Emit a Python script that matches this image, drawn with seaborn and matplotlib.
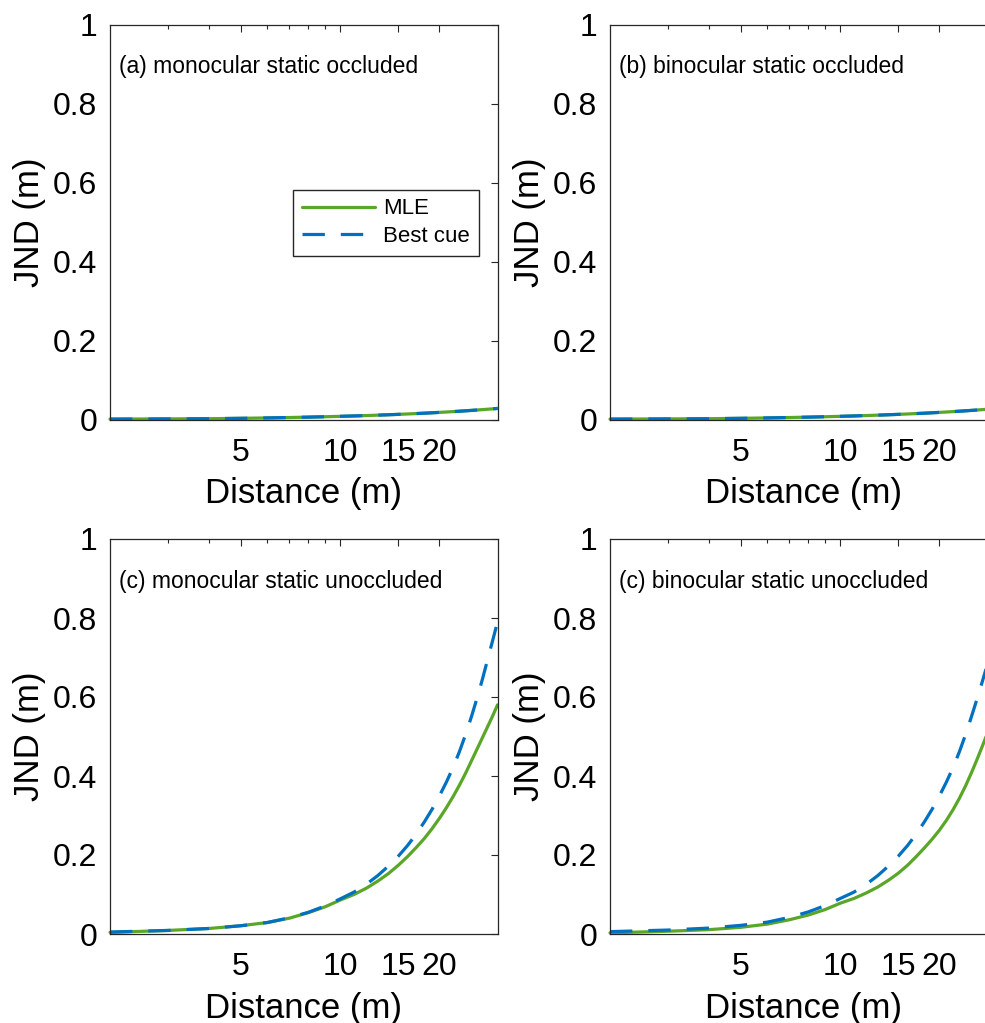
import matplotlib
matplotlib.use("Agg")
import matplotlib.pyplot as plt
from matplotlib.ticker import FixedLocator, NullFormatter
import pandas as pd
import seaborn as sns

distance = [2, 3, 4, 5, 6, 7, 8, 9, 10, 11, 12, 13, 14, 15, 16, 17, 18, 19, 20,
            21, 22, 23, 24, 25, 26, 27, 28, 29, 30]

# (a) monocular static occluded
mle_mono_occ = [0.001, 0.0015, 0.002, 0.003, 0.004, 0.005, 0.006, 0.007, 0.008, 0.009,
                0.010, 0.011, 0.012, 0.013, 0.014, 0.015, 0.016, 0.017, 0.018, 0.019,
                0.020, 0.021, 0.022, 0.023, 0.024, 0.025, 0.026, 0.027, 0.028]
best_mono_occ = [0.001, 0.0015, 0.002, 0.003, 0.004, 0.005, 0.006, 0.007, 0.008, 0.009,
                 0.010, 0.011, 0.012, 0.013, 0.014, 0.015, 0.016, 0.017, 0.018, 0.019,
                 0.020, 0.021, 0.022, 0.023, 0.024, 0.025, 0.026, 0.027, 0.028]

# (b) binocular static occluded
mle_bino_occ = [0.001, 0.0015, 0.002, 0.003, 0.004, 0.005, 0.006, 0.007, 0.008, 0.009,
                0.010, 0.011, 0.012, 0.013, 0.014, 0.015, 0.016, 0.017, 0.018, 0.019,
                0.020, 0.021, 0.022, 0.023, 0.024, 0.025, 0.026, 0.027, 0.028]
best_bino_occ = [0.001, 0.0015, 0.002, 0.003, 0.004, 0.005, 0.006, 0.007, 0.008, 0.009,
                 0.010, 0.011, 0.012, 0.013, 0.014, 0.015, 0.016, 0.017, 0.018, 0.019,
                 0.020, 0.021, 0.022, 0.023, 0.024, 0.025, 0.026, 0.027, 0.028]

# (c) monocular static unoccluded
mle_mono_unocc = [0.004, 0.009, 0.014, 0.021, 0.029, 0.040, 0.054, 0.069, 0.086, 0.100,
                  0.116, 0.134, 0.153, 0.174, 0.196, 0.219, 0.242, 0.267, 0.293, 0.320,
                  0.348, 0.377, 0.407, 0.438, 0.468, 0.497, 0.525, 0.552, 0.580]
best_mono_unocc = [0.005, 0.009, 0.014, 0.021, 0.029, 0.041, 0.055, 0.071, 0.089, 0.106,
                   0.126, 0.148, 0.172, 0.197, 0.224, 0.253, 0.284, 0.316, 0.350, 0.385,
                   0.422, 0.462, 0.505, 0.550, 0.597, 0.645, 0.695, 0.743, 0.790]

# (c) binocular static unoccluded
mle_bino_unocc = [0.003, 0.007, 0.011, 0.017, 0.025, 0.036, 0.048, 0.062, 0.078, 0.090,
                  0.104, 0.119, 0.136, 0.154, 0.174, 0.196, 0.218, 0.240, 0.263, 0.288,
                  0.315, 0.344, 0.375, 0.408, 0.442, 0.476, 0.510, 0.545, 0.580]
best_bino_unocc = [0.006, 0.010, 0.015, 0.022, 0.030, 0.042, 0.056, 0.072, 0.090, 0.106,
                   0.126, 0.148, 0.172, 0.197, 0.224, 0.253, 0.284, 0.316, 0.350, 0.385,
                   0.422, 0.462, 0.505, 0.550, 0.595, 0.640, 0.685, 0.725, 0.765]

panel_titles = ["(a) monocular static occluded", "(b) binocular static occluded",
                "(c) monocular static unoccluded", "(c) binocular static unoccluded"]
series_names = ["MLE", "Best cue"]

x_ticks = [5, 10, 15, 20]
x_minor = [3, 4, 6, 7, 8, 9]
y_ticks = [0, 0.2, 0.4, 0.6, 0.8, 1]
y_tick_labels = ["0", "0.2", "0.4", "0.6", "0.8", "1"]

panels = [
    (mle_mono_occ, best_mono_occ),
    (mle_bino_occ, best_bino_occ),
    (mle_mono_unocc, best_mono_unocc),
    (mle_bino_unocc, best_bino_unocc),
]

sns.set_style("white")
plt.rcParams["font.family"] = ["Liberation Sans", "DejaVu Sans"]
plt.rcParams["text.color"] = "black"
plt.rcParams["axes.labelcolor"] = "black"

GREEN = "#5aa628"
BLUE = "#0070c0"
AXCOL = "#262626"

fig = plt.figure(figsize=(9.85, 10.23), dpi=100)

# axes boxes in pixels; the right column runs past the figure edge as in the original
W, H = 985.0, 1023.0
ax_w, ax_h = 387.5 / W, 395.0 / H
lefts = [110 / W, 610 / W]
bottoms = [(H - 419.5) / H, (H - 934.0) / H]

for i, (mle, best) in enumerate(panels):
    ax = fig.add_axes([lefts[i % 2], bottoms[i // 2], ax_w, ax_h])
    df = pd.DataFrame({
        "distance": distance * 2,
        "jnd": list(mle) + list(best),
        "model": ["MLE"] * len(mle) + ["Best cue"] * len(best),
    })
    sns.lineplot(data=df, x="distance", y="jnd", hue="model", style="model",
                 hue_order=series_names, style_order=series_names,
                 palette={"MLE": GREEN, "Best cue": BLUE},
                 dashes={"MLE": "", "Best cue": (7, 5)},
                 linewidth=2.3, errorbar=None, legend=False, ax=ax, clip_on=False)

    ax.set_xscale("log")
    ax.set_xlim(2, 30)
    ax.set_ylim(0, 1)
    ax.set_xticks(x_ticks)
    ax.set_xticklabels([str(t) for t in x_ticks])
    ax.xaxis.set_minor_locator(FixedLocator(x_minor))
    ax.xaxis.set_minor_formatter(NullFormatter())
    ax.set_yticks(y_ticks)
    ax.set_yticklabels(y_tick_labels)

    ax.tick_params(which="both", direction="in", top=True, right=True,
                   color=AXCOL, width=0.8)
    ax.tick_params(which="major", length=5, labelsize=23, labelcolor="black")
    ax.tick_params(axis="x", which="major", pad=13)
    ax.tick_params(axis="y", which="major", pad=9)
    ax.tick_params(which="minor", length=3)
    for sp in ax.spines.values():
        sp.set_color(AXCOL)
        sp.set_linewidth(0.9)

    ax.set_xlabel("Distance (m)", fontsize=25, labelpad=7)
    ax.set_ylabel("JND (m)", fontsize=25, labelpad=5)
    ax.text(0.022, 0.893, panel_titles[i], transform=ax.transAxes,
            fontsize=16.5, va="center", ha="left")

    if i == 0:
        leg = ax.legend(ax.lines[:2], series_names, loc="upper right",
                        bbox_to_anchor=(0.952, 0.582), borderaxespad=0, fontsize=16,
                        handlelength=3.3, handletextpad=0.35, labelspacing=0.3,
                        borderpad=0.4, fancybox=False, framealpha=1)
        leg.get_frame().set_edgecolor(AXCOL)
        leg.get_frame().set_linewidth(1.0)

fig.savefig("out.png", dpi=100)
